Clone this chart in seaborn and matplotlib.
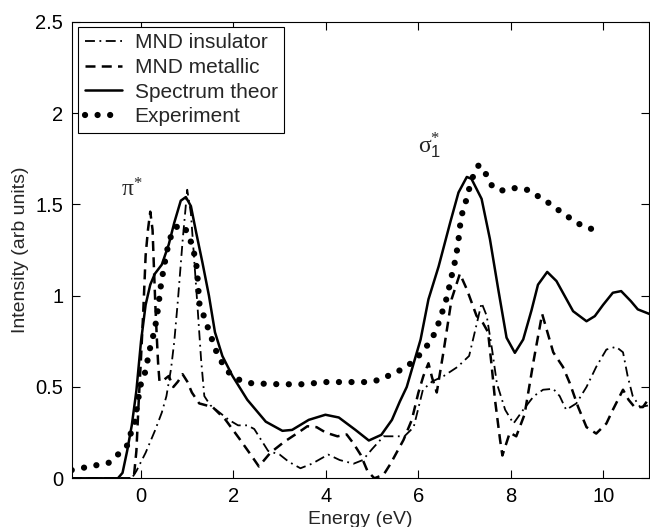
import matplotlib
matplotlib.use("Agg")
import matplotlib.pyplot as plt
import seaborn as sns
import pandas as pd
import numpy as np

# ---------------- data ----------------
ins_x = [-1.5, -0.2, -0.1, 0.1, 0.3, 0.45, 0.55, 0.65, 0.72, 0.8, 0.9, 1.0, 1.08, 1.15,
         1.22, 1.3, 1.37, 1.5, 1.7, 1.9, 2.1, 2.3, 2.45, 2.6, 2.75, 3.0, 3.2, 3.45, 3.7,
         4.05, 4.3, 4.6, 4.8, 5.0, 5.25, 5.5, 5.7, 5.9, 6.1, 6.3, 6.55, 6.85, 7.1, 7.25,
         7.37, 7.48, 7.6, 7.7, 7.88, 8.06, 8.27, 8.5, 8.7, 8.92, 9.06, 9.2, 9.42, 9.64,
         9.85, 10.07, 10.28, 10.43, 10.53, 10.64, 10.8, 11.0]
ins_y = [0.0, 0.0, 0.04, 0.14, 0.26, 0.36, 0.45, 0.6, 0.75, 0.98, 1.3, 1.58, 1.45, 1.2,
         0.95, 0.65, 0.45, 0.40, 0.36, 0.32, 0.29, 0.29, 0.27, 0.21, 0.15, 0.13, 0.09,
         0.055, 0.08, 0.13, 0.10, 0.08, 0.10, 0.16, 0.23, 0.23, 0.23, 0.28, 0.485, 0.53,
         0.56, 0.61, 0.67, 0.83, 0.96, 0.89, 0.70, 0.52, 0.375, 0.30, 0.375, 0.45, 0.485,
         0.49, 0.45, 0.375, 0.41, 0.50, 0.61, 0.705, 0.72, 0.69, 0.56, 0.45, 0.39, 0.40]

met_x = [-1.5, -0.2, -0.15, -0.1, -0.05, 0.0, 0.05, 0.1, 0.15, 0.2, 0.25, 0.28, 0.31,
         0.34, 0.37, 0.4, 0.5, 0.6, 0.7, 0.8, 0.9, 1.0, 1.1, 1.26, 1.55, 1.83, 2.12, 2.4,
         2.55, 2.8, 3.1, 3.4, 3.6, 3.8, 4.0, 4.25, 4.45, 4.6, 4.75, 4.9, 5.05, 5.25, 5.4,
         5.68, 5.86, 6.0, 6.11, 6.22, 6.3, 6.4, 6.55, 6.72, 6.9, 7.05, 7.26, 7.4, 7.51,
         7.59, 7.66, 7.77, 7.82, 7.98, 8.12, 8.3, 8.5, 8.68, 8.92, 9.13, 9.28, 9.46, 9.64,
         9.85, 10.07, 10.21, 10.43, 10.55, 10.68, 10.86, 11.0]
met_y = [0.0, 0.0, 0.02, 0.15, 0.42, 0.66, 0.92, 1.22, 1.36, 1.46, 1.36, 1.15, 0.95,
         0.78, 0.63, 0.53, 0.54, 0.56, 0.50, 0.53, 0.57, 0.53, 0.47, 0.41, 0.39, 0.32,
         0.22, 0.12, 0.065, 0.14, 0.20, 0.25, 0.285, 0.28, 0.25, 0.23, 0.24, 0.19, 0.13,
         0.04, 0.0, 0.02, 0.08, 0.21, 0.32, 0.467, 0.56, 0.63, 0.55, 0.47, 0.70, 0.98,
         1.12, 1.035, 0.89, 0.85, 0.80, 0.61, 0.43, 0.21, 0.125, 0.25, 0.23, 0.35, 0.65,
         0.90, 0.69, 0.61, 0.52, 0.39, 0.28, 0.245, 0.30, 0.375, 0.485, 0.43, 0.39, 0.39,
         0.44]

th_x = [-1.5, -0.5, -0.4, -0.3, -0.2, -0.1, 0.0, 0.1, 0.2, 0.3, 0.45, 0.6, 0.72, 0.86,
        0.97, 1.08, 1.19, 1.33, 1.47, 1.6, 1.76, 1.98, 2.3, 2.7, 3.06, 3.27, 3.63, 3.99,
        4.28, 4.64, 4.93, 5.2, 5.43, 5.6, 5.75, 5.9, 6.05, 6.22, 6.44, 6.69, 6.87, 7.05,
        7.15, 7.37, 7.55, 7.73, 7.91, 8.09, 8.27, 8.45, 8.59, 8.79, 8.99, 9.35, 9.64,
        9.82, 10.0, 10.21, 10.39, 10.6, 10.75, 11.0]
th_y = [0.0, 0.0, 0.03, 0.15, 0.29, 0.48, 0.75, 0.95, 1.06, 1.12, 1.17, 1.28, 1.40,
        1.52, 1.54, 1.49, 1.35, 1.18, 1.0, 0.8, 0.67, 0.56, 0.43, 0.31, 0.26, 0.265,
        0.32, 0.348, 0.333, 0.265, 0.207, 0.238, 0.32, 0.42, 0.50, 0.63, 0.76, 0.98,
        1.16, 1.40, 1.565, 1.65, 1.64, 1.53, 1.31, 1.035, 0.77, 0.687, 0.76, 0.92, 1.06,
        1.13, 1.08, 0.915, 0.86, 0.888, 0.95, 1.016, 1.025, 0.97, 0.925, 0.90]

exp_x = [-1.5, -1.0, -0.7, -0.5, -0.3, -0.23, -0.14, -0.09, -0.05, 0.0, 0.11, 0.15, 0.22,
         0.29, 0.34, 0.38, 0.41, 0.45, 0.5, 0.55, 0.61, 0.72, 0.88, 1.0, 1.1, 1.19, 1.23,
         1.26, 1.33, 1.44, 1.62, 1.76, 1.9, 2.15, 2.4, 3.0, 3.5, 4.0, 4.5, 4.9, 5.19, 5.44,
         5.68, 5.92, 6.11, 6.28, 6.4, 6.49, 6.58, 6.65, 6.71, 6.78, 6.83, 6.87, 6.9, 6.95,
         7.03, 7.1, 7.19, 7.31, 7.49, 7.61, 7.84, 8.11, 8.39, 8.63, 8.87, 9.1, 9.31, 9.56,
         9.82]
exp_y = [0.045, 0.07, 0.085, 0.13, 0.18, 0.24, 0.30, 0.385, 0.45, 0.52, 0.595, 0.66,
         0.74, 0.805, 0.88, 0.95, 1.02, 1.09, 1.16, 1.23, 1.30, 1.37, 1.39, 1.35, 1.28,
         1.19, 1.08, 0.96, 0.91, 0.83, 0.70, 0.63, 0.58, 0.535, 0.52, 0.515, 0.515, 0.527,
         0.527, 0.527, 0.54, 0.573, 0.60, 0.645, 0.70, 0.756, 0.82, 0.89, 0.955, 1.025,
         1.095, 1.17, 1.236, 1.305, 1.377, 1.45, 1.517, 1.584, 1.657, 1.716, 1.657, 1.593,
         1.575, 1.59, 1.578, 1.538, 1.50, 1.456, 1.42, 1.38, 1.36]

series_names = ["MND insulator", "MND metallic", "Spectrum theor", "Experiment"]
x_ticks = [0, 2, 4, 6, 8, 10]
y_ticks = [0, 0.5, 1, 1.5, 2, 2.5]
y_tick_labels = ["0", "0.5", "1", "1.5", "2", "2.5"]

# ---------------- styling ----------------
sns.set_style("ticks")
plt.rcParams["font.family"] = ["Liberation Sans", "DejaVu Sans"]
plt.rcParams["mathtext.fontset"] = "custom"
plt.rcParams["mathtext.rm"] = "Liberation Serif"
plt.rcParams["mathtext.it"] = "Liberation Serif"
plt.rcParams["mathtext.sf"] = "Liberation Sans"

fig = plt.figure(figsize=(6.5, 5.27), dpi=100)
ax = fig.add_axes([0.1103, 0.0924, 0.8887, 0.8664])

df_ins = pd.DataFrame({"x": ins_x, "y": ins_y})
df_met = pd.DataFrame({"x": met_x, "y": met_y})
df_th = pd.DataFrame({"x": th_x, "y": th_y})
df_exp = pd.DataFrame({"x": exp_x, "y": exp_y})

sns.lineplot(data=df_ins, x="x", y="y", ax=ax, color="black", lw=1.3,
             linestyle=(0, (5.5, 2.5, 1, 2.5)), label=series_names[0], sort=False)
sns.lineplot(data=df_met, x="x", y="y", ax=ax, color="black", lw=1.8,
             linestyle=(0, (4, 2.5)), label=series_names[1], sort=False)
sns.lineplot(data=df_th, x="x", y="y", ax=ax, color="black", lw=1.8,
             linestyle="-", label=series_names[2], sort=False)
sns.lineplot(data=df_exp, x="x", y="y", ax=ax, color="black", lw=4.5,
             linestyle=(0, (0.01, 2.0)), dash_capstyle="round",
             label=series_names[3], sort=False)

ax.set_xlim(-1.5, 11)
ax.set_ylim(0, 2.5)
ax.set_xticks(x_ticks)
ax.set_xticklabels([str(t) for t in x_ticks])
ax.set_yticks(y_ticks)
ax.set_yticklabels(y_tick_labels)
ax.tick_params(direction="in", top=True, right=True, length=6, width=0.8,
               labelsize=14.5, colors="black", pad=6)
for s in ax.spines.values():
    s.set_visible(True)
    s.set_linewidth(0.8)
    s.set_color("black")

ax.set_xlabel("Energy (eV)", fontsize=14, labelpad=4)
ax.set_ylabel("Intensity (arb units)", fontsize=14, labelpad=5)

ax.text(-0.19, 1.58, r"$\mathrm{\pi}^{*}$", fontsize=17, ha="center", va="center")
ax.text(6.25, 1.82, r"$\mathrm{\sigma}_{\mathsf{1}}^{*}$", fontsize=17, ha="center", va="center")

leg = ax.legend(loc="upper left", bbox_to_anchor=(0.0114, 0.989), borderaxespad=0,
                fontsize=15, frameon=True, fancybox=False, framealpha=1,
                edgecolor="black", handlelength=1.8, handletextpad=0.6,
                labelspacing=0.28, borderpad=0.3)
leg.get_frame().set_linewidth(0.8)

fig.savefig("out.png", dpi=100)
